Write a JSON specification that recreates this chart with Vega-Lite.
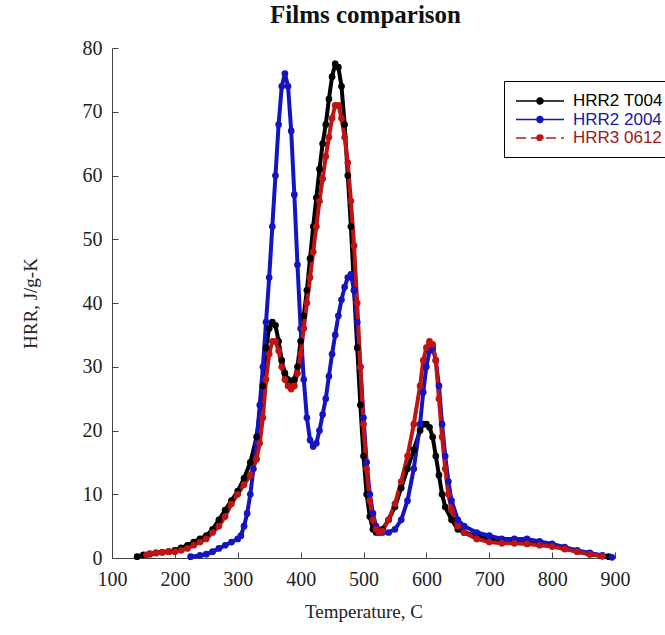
{
  "$schema": "https://vega.github.io/schema/vega-lite/v6.json",
  "width": 503,
  "height": 510,
  "autosize": {"type": "none"},
  "padding": {"left": 112, "top": 48, "right": 50, "bottom": 77},
  "background": "white",
  "title": {"text": "Films comparison", "font": "Liberation Serif", "fontSize": 25, "fontWeight": "bold", "color": "#111", "anchor": "middle", "offset": 10, "dx": 2},
  "datasets": {
    "curves": [
      {"s":"HRR2 T004","t":140,"v":0.2},{"s":"HRR2 T004","t":150,"v":0.5},{"s":"HRR2 T004","t":160,"v":0.6},{"s":"HRR2 T004","t":170,"v":0.8},{"s":"HRR2 T004","t":180,"v":0.9},{"s":"HRR2 T004","t":190,"v":1},{"s":"HRR2 T004","t":200,"v":1.2},{"s":"HRR2 T004","t":210,"v":1.6},{"s":"HRR2 T004","t":220,"v":2},{"s":"HRR2 T004","t":230,"v":2.5},{"s":"HRR2 T004","t":240,"v":3},{"s":"HRR2 T004","t":250,"v":3.5},{"s":"HRR2 T004","t":260,"v":4.5},{"s":"HRR2 T004","t":270,"v":6},{"s":"HRR2 T004","t":280,"v":7.5},{"s":"HRR2 T004","t":290,"v":9},{"s":"HRR2 T004","t":300,"v":10.5},{"s":"HRR2 T004","t":310,"v":12.5},{"s":"HRR2 T004","t":320,"v":15},{"s":"HRR2 T004","t":330,"v":19},{"s":"HRR2 T004","t":340,"v":27},{"s":"HRR2 T004","t":345,"v":33},{"s":"HRR2 T004","t":350,"v":36},{"s":"HRR2 T004","t":355,"v":37},{"s":"HRR2 T004","t":360,"v":36.5},{"s":"HRR2 T004","t":365,"v":34},{"s":"HRR2 T004","t":370,"v":31},{"s":"HRR2 T004","t":375,"v":29},{"s":"HRR2 T004","t":380,"v":28},{"s":"HRR2 T004","t":385,"v":27.5},{"s":"HRR2 T004","t":390,"v":28},{"s":"HRR2 T004","t":395,"v":30},{"s":"HRR2 T004","t":400,"v":34},{"s":"HRR2 T004","t":405,"v":38},{"s":"HRR2 T004","t":410,"v":42},{"s":"HRR2 T004","t":415,"v":47},{"s":"HRR2 T004","t":420,"v":52},{"s":"HRR2 T004","t":425,"v":56.5},{"s":"HRR2 T004","t":430,"v":61},{"s":"HRR2 T004","t":435,"v":65},{"s":"HRR2 T004","t":440,"v":68},{"s":"HRR2 T004","t":445,"v":72},{"s":"HRR2 T004","t":450,"v":75.5},{"s":"HRR2 T004","t":455,"v":77.5},{"s":"HRR2 T004","t":460,"v":77},{"s":"HRR2 T004","t":465,"v":74},{"s":"HRR2 T004","t":470,"v":68},{"s":"HRR2 T004","t":475,"v":60},{"s":"HRR2 T004","t":480,"v":52},{"s":"HRR2 T004","t":485,"v":42},{"s":"HRR2 T004","t":490,"v":33},{"s":"HRR2 T004","t":495,"v":24},{"s":"HRR2 T004","t":500,"v":16},{"s":"HRR2 T004","t":505,"v":10},{"s":"HRR2 T004","t":510,"v":6.5},{"s":"HRR2 T004","t":515,"v":4.5},{"s":"HRR2 T004","t":520,"v":4},{"s":"HRR2 T004","t":525,"v":4},{"s":"HRR2 T004","t":530,"v":4.5},{"s":"HRR2 T004","t":540,"v":6},{"s":"HRR2 T004","t":550,"v":8},{"s":"HRR2 T004","t":560,"v":11},{"s":"HRR2 T004","t":570,"v":14},{"s":"HRR2 T004","t":580,"v":17},{"s":"HRR2 T004","t":590,"v":20},{"s":"HRR2 T004","t":595,"v":21},{"s":"HRR2 T004","t":600,"v":21},{"s":"HRR2 T004","t":605,"v":20.5},{"s":"HRR2 T004","t":610,"v":19},{"s":"HRR2 T004","t":615,"v":16},{"s":"HRR2 T004","t":620,"v":13},{"s":"HRR2 T004","t":625,"v":10},{"s":"HRR2 T004","t":630,"v":8},{"s":"HRR2 T004","t":640,"v":6},{"s":"HRR2 T004","t":650,"v":4.5},{"s":"HRR2 T004","t":660,"v":4},{"s":"HRR2 T004","t":680,"v":3.5},{"s":"HRR2 T004","t":700,"v":3},{"s":"HRR2 T004","t":720,"v":2.8},{"s":"HRR2 T004","t":740,"v":2.7},{"s":"HRR2 T004","t":760,"v":2.6},{"s":"HRR2 T004","t":780,"v":2.3},{"s":"HRR2 T004","t":800,"v":2},{"s":"HRR2 T004","t":820,"v":1.5},{"s":"HRR2 T004","t":840,"v":1},{"s":"HRR2 T004","t":860,"v":0.6},{"s":"HRR2 T004","t":880,"v":0.3},{"s":"HRR2 T004","t":890,"v":0.2},
      {"s":"HRR2 2004","t":225,"v":0.2},{"s":"HRR2 2004","t":240,"v":0.4},{"s":"HRR2 2004","t":250,"v":0.6},{"s":"HRR2 2004","t":260,"v":1},{"s":"HRR2 2004","t":270,"v":1.5},{"s":"HRR2 2004","t":280,"v":2},{"s":"HRR2 2004","t":290,"v":2.5},{"s":"HRR2 2004","t":300,"v":3},{"s":"HRR2 2004","t":305,"v":3.5},{"s":"HRR2 2004","t":310,"v":5},{"s":"HRR2 2004","t":315,"v":7},{"s":"HRR2 2004","t":320,"v":10},{"s":"HRR2 2004","t":325,"v":14},{"s":"HRR2 2004","t":330,"v":18},{"s":"HRR2 2004","t":335,"v":24},{"s":"HRR2 2004","t":340,"v":30},{"s":"HRR2 2004","t":345,"v":37},{"s":"HRR2 2004","t":350,"v":44},{"s":"HRR2 2004","t":355,"v":52},{"s":"HRR2 2004","t":360,"v":60},{"s":"HRR2 2004","t":365,"v":68},{"s":"HRR2 2004","t":370,"v":74},{"s":"HRR2 2004","t":375,"v":76},{"s":"HRR2 2004","t":380,"v":74},{"s":"HRR2 2004","t":385,"v":67},{"s":"HRR2 2004","t":390,"v":57},{"s":"HRR2 2004","t":395,"v":46},{"s":"HRR2 2004","t":400,"v":36},{"s":"HRR2 2004","t":405,"v":28},{"s":"HRR2 2004","t":410,"v":22},{"s":"HRR2 2004","t":415,"v":18.5},{"s":"HRR2 2004","t":420,"v":17.5},{"s":"HRR2 2004","t":425,"v":18},{"s":"HRR2 2004","t":430,"v":20},{"s":"HRR2 2004","t":435,"v":22.5},{"s":"HRR2 2004","t":440,"v":25},{"s":"HRR2 2004","t":445,"v":28.5},{"s":"HRR2 2004","t":450,"v":32},{"s":"HRR2 2004","t":455,"v":35},{"s":"HRR2 2004","t":460,"v":38},{"s":"HRR2 2004","t":465,"v":40.5},{"s":"HRR2 2004","t":470,"v":42.5},{"s":"HRR2 2004","t":475,"v":44},{"s":"HRR2 2004","t":480,"v":44.5},{"s":"HRR2 2004","t":485,"v":42},{"s":"HRR2 2004","t":490,"v":37},{"s":"HRR2 2004","t":495,"v":30},{"s":"HRR2 2004","t":500,"v":22},{"s":"HRR2 2004","t":505,"v":15},{"s":"HRR2 2004","t":510,"v":10},{"s":"HRR2 2004","t":515,"v":7},{"s":"HRR2 2004","t":520,"v":5},{"s":"HRR2 2004","t":530,"v":4},{"s":"HRR2 2004","t":540,"v":4},{"s":"HRR2 2004","t":550,"v":4.5},{"s":"HRR2 2004","t":560,"v":6},{"s":"HRR2 2004","t":570,"v":9},{"s":"HRR2 2004","t":580,"v":14},{"s":"HRR2 2004","t":590,"v":21},{"s":"HRR2 2004","t":595,"v":26},{"s":"HRR2 2004","t":600,"v":30},{"s":"HRR2 2004","t":605,"v":32.5},{"s":"HRR2 2004","t":610,"v":33},{"s":"HRR2 2004","t":615,"v":31},{"s":"HRR2 2004","t":620,"v":27},{"s":"HRR2 2004","t":625,"v":21},{"s":"HRR2 2004","t":630,"v":16},{"s":"HRR2 2004","t":635,"v":12},{"s":"HRR2 2004","t":640,"v":9},{"s":"HRR2 2004","t":650,"v":6},{"s":"HRR2 2004","t":660,"v":5},{"s":"HRR2 2004","t":680,"v":4},{"s":"HRR2 2004","t":700,"v":3.5},{"s":"HRR2 2004","t":720,"v":3},{"s":"HRR2 2004","t":740,"v":3},{"s":"HRR2 2004","t":760,"v":3},{"s":"HRR2 2004","t":780,"v":2.6},{"s":"HRR2 2004","t":800,"v":2.2},{"s":"HRR2 2004","t":820,"v":1.7},{"s":"HRR2 2004","t":840,"v":1.2},{"s":"HRR2 2004","t":860,"v":0.8},{"s":"HRR2 2004","t":880,"v":0.4},{"s":"HRR2 2004","t":895,"v":0.1},
      {"s":"HRR3 0612","t":155,"v":0.5},{"s":"HRR3 0612","t":160,"v":0.7},{"s":"HRR3 0612","t":170,"v":0.8},{"s":"HRR3 0612","t":180,"v":0.9},{"s":"HRR3 0612","t":190,"v":1},{"s":"HRR3 0612","t":200,"v":1},{"s":"HRR3 0612","t":210,"v":1.2},{"s":"HRR3 0612","t":220,"v":1.5},{"s":"HRR3 0612","t":230,"v":2},{"s":"HRR3 0612","t":240,"v":2.5},{"s":"HRR3 0612","t":250,"v":3},{"s":"HRR3 0612","t":260,"v":4},{"s":"HRR3 0612","t":270,"v":5},{"s":"HRR3 0612","t":280,"v":6.5},{"s":"HRR3 0612","t":290,"v":8.5},{"s":"HRR3 0612","t":300,"v":10},{"s":"HRR3 0612","t":310,"v":11.5},{"s":"HRR3 0612","t":320,"v":13},{"s":"HRR3 0612","t":330,"v":15.5},{"s":"HRR3 0612","t":335,"v":18},{"s":"HRR3 0612","t":340,"v":22},{"s":"HRR3 0612","t":345,"v":28},{"s":"HRR3 0612","t":350,"v":32},{"s":"HRR3 0612","t":355,"v":34},{"s":"HRR3 0612","t":360,"v":34},{"s":"HRR3 0612","t":365,"v":32.5},{"s":"HRR3 0612","t":370,"v":30},{"s":"HRR3 0612","t":375,"v":28},{"s":"HRR3 0612","t":380,"v":27},{"s":"HRR3 0612","t":385,"v":26.5},{"s":"HRR3 0612","t":390,"v":27},{"s":"HRR3 0612","t":395,"v":29},{"s":"HRR3 0612","t":400,"v":32},{"s":"HRR3 0612","t":405,"v":36},{"s":"HRR3 0612","t":410,"v":40},{"s":"HRR3 0612","t":415,"v":44},{"s":"HRR3 0612","t":420,"v":48},{"s":"HRR3 0612","t":425,"v":52},{"s":"HRR3 0612","t":430,"v":56},{"s":"HRR3 0612","t":435,"v":59.5},{"s":"HRR3 0612","t":440,"v":63},{"s":"HRR3 0612","t":445,"v":66},{"s":"HRR3 0612","t":450,"v":69},{"s":"HRR3 0612","t":455,"v":71},{"s":"HRR3 0612","t":460,"v":71},{"s":"HRR3 0612","t":465,"v":69},{"s":"HRR3 0612","t":470,"v":66},{"s":"HRR3 0612","t":475,"v":62},{"s":"HRR3 0612","t":480,"v":56},{"s":"HRR3 0612","t":485,"v":49},{"s":"HRR3 0612","t":490,"v":40},{"s":"HRR3 0612","t":495,"v":30},{"s":"HRR3 0612","t":500,"v":21},{"s":"HRR3 0612","t":505,"v":14},{"s":"HRR3 0612","t":510,"v":9},{"s":"HRR3 0612","t":515,"v":6},{"s":"HRR3 0612","t":520,"v":4.5},{"s":"HRR3 0612","t":525,"v":4},{"s":"HRR3 0612","t":530,"v":4.2},{"s":"HRR3 0612","t":540,"v":6},{"s":"HRR3 0612","t":550,"v":8.5},{"s":"HRR3 0612","t":560,"v":12},{"s":"HRR3 0612","t":570,"v":16},{"s":"HRR3 0612","t":580,"v":21},{"s":"HRR3 0612","t":590,"v":27},{"s":"HRR3 0612","t":595,"v":31},{"s":"HRR3 0612","t":600,"v":33},{"s":"HRR3 0612","t":605,"v":34},{"s":"HRR3 0612","t":610,"v":33.5},{"s":"HRR3 0612","t":615,"v":31},{"s":"HRR3 0612","t":620,"v":25},{"s":"HRR3 0612","t":625,"v":19},{"s":"HRR3 0612","t":630,"v":14},{"s":"HRR3 0612","t":635,"v":10},{"s":"HRR3 0612","t":640,"v":7.5},{"s":"HRR3 0612","t":650,"v":5},{"s":"HRR3 0612","t":660,"v":4},{"s":"HRR3 0612","t":680,"v":3},{"s":"HRR3 0612","t":700,"v":2.5},{"s":"HRR3 0612","t":720,"v":2.3},{"s":"HRR3 0612","t":740,"v":2.3},{"s":"HRR3 0612","t":760,"v":2.2},{"s":"HRR3 0612","t":780,"v":2},{"s":"HRR3 0612","t":800,"v":1.8},{"s":"HRR3 0612","t":820,"v":1.4},{"s":"HRR3 0612","t":840,"v":1},{"s":"HRR3 0612","t":860,"v":0.6},{"s":"HRR3 0612","t":880,"v":0.3}
    ]
  },
  "data": {"name": "curves"},
  "encoding": {
    "x": {"field": "t", "type": "quantitative", "scale": {"domain": [100, 900], "nice": false, "zero": false},
      "axis": {"title": "Temperature, C", "values": [100,200,300,400,500,600,700,800,900], "grid": false, "format": "d", "labelFlush": false,
        "domainColor": "#444", "tickColor": "#444", "tickSize": -6, "labelPadding": 17,
        "labelFont": "Liberation Serif", "labelFontSize": 20, "labelColor": "#222",
        "titleFont": "Liberation Serif", "titleFontSize": 19, "titleFontWeight": "normal", "titleColor": "#222", "titlePadding": 13}},
    "y": {"field": "v", "type": "quantitative", "scale": {"domain": [0, 80], "nice": false},
      "axis": {"title": "HRR, J/g-K", "values": [0,10,20,30,40,50,60,70,80], "grid": false,
        "domainColor": "#444", "tickColor": "#444", "tickSize": -6, "labelPadding": 16,
        "labelFont": "Liberation Serif", "labelFontSize": 20, "labelColor": "#222",
        "titleFont": "Liberation Serif", "titleFontSize": 19, "titleFontWeight": "normal", "titleColor": "#222", "titlePadding": 42}},
    "color": {"field": "s", "type": "nominal",
      "scale": {"domain": ["HRR2 T004", "HRR2 2004", "HRR3 0612"], "range": ["#000000", "#1414c0", "#c01414"]},
      "legend": {"title": null, "orient": "none", "legendX": 392, "legendY": 33,
        "strokeColor": "#000", "padding": 11, "fillColor": "white",
        "labelFont": "Liberation Sans", "labelFontSize": 17, "labelOffset": 40, "rowPadding": 1.5,
        "symbolType": "M-1,0H5M1.625,0A0.375,0.375 0 1,1 2.375,0A0.375,0.375 0 1,1 1.625,0Z", "symbolSize": 256, "symbolStrokeWidth": 1.5,
        "encode": {"labels": {"update": {"fill": [{"test": "datum.value === 'HRR2 T004'", "value": "#000"}, {"test": "datum.value === 'HRR2 2004'", "value": "#1a1a9a"}, {"value": "#a01818"}]}},
                   "symbols": {"update": {"fill": {"scale": "color", "field": "value"}, "stroke": {"scale": "color", "field": "value"}, "fillOpacity": {"value": 1},
                     "strokeDash": [{"test": "datum.value === 'HRR3 0612'", "value": [10, 5]}, {"value": [1, 0]}]}}}}}
  },
  "layer": [
    {"mark": {"type": "line", "strokeWidth": 4}},
    {"mark": {"type": "point", "filled": true, "size": 45, "opacity": 1}}
  ],
  "config": {"view": {"stroke": null}}
}
